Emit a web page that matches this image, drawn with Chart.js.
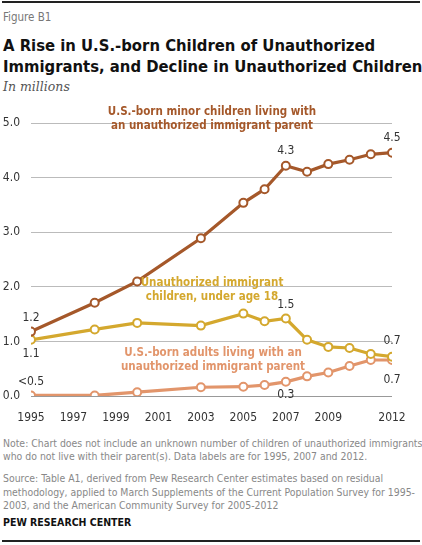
<!DOCTYPE html>
<html><head><meta charset="utf-8">
<script src="https://cdn.jsdelivr.net/npm/chart.js@4"></script>
<style>
body{margin:0;width:422px;height:545px;position:relative;background:#fff;font-family:"DejaVu Sans Condensed","Liberation Sans",Arial,sans-serif;overflow:hidden}
.rule{position:absolute;left:2px;right:2px;height:2px;background:#222}
.t{position:absolute;left:3px;white-space:nowrap}
#wrap{position:absolute;left:0;top:105px;width:422px;height:320px}
</style></head><body>
<div class="rule" style="top:1px"></div>
<div class="t" style="top:10px;font-size:11.5px;color:#777">Figure B1</div>
<div class="t" style="top:35px;font-size:16.5px;font-weight:bold;line-height:21px;color:#111">A Rise in U.S.-born Children of Unauthorized<br>Immigrants, and Decline in Unauthorized Children</div>
<div class="t" style="top:79px;font-size:12.5px;font-style:italic;color:#555;font-family:'DejaVu Serif',serif">In millions</div>
<div id="wrap"><canvas id="c"></canvas></div>
<div class="t" style="top:437px;font-size:10.4px;line-height:13px;color:#888">Note: Chart does not include an unknown number of children of unauthorized immigrants<br>who do not live with their parent(s). Data labels are for 1995, 2007 and 2012.</div>
<div class="t" style="top:472px;font-size:10.4px;line-height:13.5px;color:#888">Source: Table A1, derived from Pew Research Center estimates based on residual<br>methodology, applied to March Supplements of the Current Population Survey for 1995-<br>2003, and the American Community Survey for 2005-2012</div>
<div class="t" style="top:516px;font-size:10.5px;font-weight:bold;color:#111">PEW RESEARCH CENTER</div>
<div class="rule" style="top:540px;height:1.5px"></div>
<script>
const years=[1995,1998,2000,2003,2005,2006,2007,2008,2009,2010,2011,2012];
const usBornChildren=[1.18,1.71,2.10,2.89,3.54,3.79,4.22,4.11,4.25,4.33,4.43,4.46];
const unauthChildren=[1.03,1.22,1.34,1.29,1.51,1.37,1.42,1.03,0.90,0.88,0.77,0.72];
const usBornAdults=[0.01,0.01,0.07,0.16,0.17,0.20,0.26,0.36,0.43,0.55,0.66,0.66];
const xTicks=[1995,1997,1999,2001,2003,2005,2007,2009,2012];
const yTicks=[0,1,2,3,4,5];
const COL=['#a5582a','#d4a82e','#e2956b'];
const series=[usBornChildren,unauthChildren,usBornAdults];
const FONT='"DejaVu Sans Condensed","Liberation Sans", Arial';
const labels=[
 [[0,'1.2',-14],[6,'4.3',-15],[11,'4.5',-15]],
 [[0,'1.1',14],[6,'1.5',-14],[11,'0.7',-16]],
 [[0,'<0.5',-14],[6,'0.3',13],[11,'0.7',20]]
];
const names=[
 [['U.S.-born minor children living with','an unauthorized immigrant parent'],212,-5],
 [['Unauthorized immigrant','children, under age 18'],212,166],
 [['U.S.-born adults living with an','unauthorized immigrant parent'],213,236]
];
const pl={id:'pl',afterDatasetsDraw(ch){
 const c=ch.ctx,x=ch.scales.x,y=ch.scales.y;
 c.save();c.textAlign='center';c.textBaseline='middle';
 c.font='12px '+FONT;c.fillStyle='#333';
 labels.forEach((L,s)=>L.forEach(([i,t,dy])=>{c.fillText(t,x.getPixelForValue(years[i]),y.getPixelForValue(series[s][i])+dy);}));
 c.font='bold 11.5px '+FONT;
 names.forEach(([ls,px,py],s)=>{c.fillStyle=COL[s];ls.forEach((t,k)=>c.fillText(t,px,py+k*14+12));});
 c.restore();}};
new Chart(document.getElementById('c'),{type:'line',
 data:{datasets:series.map((d,s)=>({data:d.map((v,i)=>({x:years[i],y:v})),borderColor:COL[s],borderWidth:3.2,pointRadius:4,pointBorderWidth:2,pointBackgroundColor:'#fff',pointBorderColor:COL[s],tension:0,order:s}))},
 options:{responsive:true,maintainAspectRatio:false,animation:false,
  layout:{padding:{top:12,right:30,left:0,bottom:0}},
  plugins:{legend:{display:false},tooltip:{enabled:false}},
  scales:{
   x:{type:'linear',min:1995,max:2012,afterBuildTicks:a=>{a.ticks=xTicks.map(v=>({value:v}));},afterFit:a=>{a.height=29;},
      grid:{display:false},border:{display:false},
      ticks:{color:'#333',font:{size:12,family:FONT},maxRotation:0,autoSkip:false,padding:7,callback:v=>String(v)}},
   y:{min:0,max:5,afterBuildTicks:a=>{a.ticks=yTicks.map(v=>({value:v}));},afterFit:a=>{a.width=31;},
      border:{display:false},
      grid:{color:c=>c.tick.value===0?'#999':'#bbb',lineWidth:1,borderDash:c=>c.tick.value===0?[]:[1,2],drawTicks:false},
      ticks:{color:'#333',font:{size:12,family:FONT},padding:11,callback:v=>v.toFixed(1)}}
  }},plugins:[pl]});
</script></body></html>
